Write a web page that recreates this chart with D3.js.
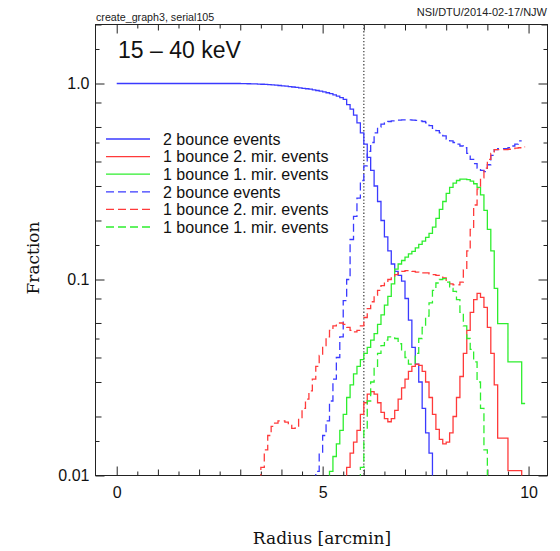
<!DOCTYPE html>
<html><head><meta charset="utf-8">
<script src="https://cdn.jsdelivr.net/npm/d3@7"></script>
<style>body{margin:0;background:#fff} svg{display:block}</style>
</head><body><svg id="c" width="560" height="551"></svg>
<script>
// ---------- data ----------
const binWidth = 1 / 12; // arcmin
const seriesLabels = ["2 bounce events", "1 bounce 2. mir. events", "1 bounce 1. mir. events",
                      "2 bounce events", "1 bounce 2. mir. events", "1 bounce 1. mir. events"];
const seriesColors = ["#3a3aff", "#ff3a3a", "#2eee2e", "#3a3aff", "#ff3a3a", "#2eee2e"];
const seriesDashed = [false, false, false, true, true, true];
// whether the histogram falls back to zero after its last bin
const seriesDropAtEnd = [true, true, false, false, false, true];

// first bin index of each series (bin k spans [k/12, (k+1)/12] arcmin)
const blueSolidStart = 0;
const blueSolid = [
  1,1,1,1,1,1,1,1,1,1,1,1,1,1,1,1,1,1,1,1,1,1,1,1,1,1,1,1,1,1,1,1,1,1,1,1,
  0.999,0.998,0.997,0.996,0.995,0.993,
  0.991,0.989,0.986,0.983,0.980,0.977,
  0.973,0.969,0.965,0.960,0.955,0.950,
  0.945,0.940,0.935,0.928,0.921,0.914,
  0.906,0.897,0.887,0.875,0.862,0.847,
  0.83,0.78,0.74,0.69,0.63,0.56,
  0.49,0.42,0.36,0.30,0.25,0.20,
  0.165,0.14,0.12,0.11,0.105,0.098,
  0.08,0.062,0.045,0.037,0.030,0.022,
  0.0165,0.013];
const redSolidStart = 67;
const redSolid = [
  0.011,0.013,0.0148,0.017,0.0205,
  0.0235,0.026,0.0268,0.026,0.0235,0.021,
  0.0195,0.0188,0.0195,0.0215,0.0245,0.028,
  0.031,0.034,0.036,0.037,0.0365,0.034,
  0.030,0.025,0.0205,0.0172,0.0153,0.0145,
  0.0148,0.0165,0.020,0.025,0.032,0.042,
  0.055,0.068,0.079,0.085,0.081,0.072,
  0.057,0.042,0.029,0.0155,0.0155,0.0155,
  0.0106,0.0106,0.0106,0.0106];
const greenSolidStart = 62;
const greenSolid = [
  0.0105,0.0125,0.0145,0.017,
  0.0205,0.025,0.029,0.033,0.036,0.039,
  0.042,0.045,0.049,0.053,0.059,0.066,
  0.074,0.082,0.095,0.113,0.12,0.125,
  0.13,0.135,0.139,0.145,0.151,0.157,
  0.164,0.172,0.185,0.205,0.228,0.25,
  0.275,0.295,0.31,0.32,0.325,0.325,
  0.323,0.318,0.308,0.295,0.27,0.225,
  0.18,0.14,0.09,0.0596,0.0596,0.0596,
  0.038,0.038,0.038,0.038,0.0233];
const blueDashedStart = 58;
const blueDashed = [
  0.0105,0.013,0.016,0.019,0.024,0.031,0.040,0.051,0.078,0.10,
  0.16,0.21,0.26,0.32,0.38,0.45,0.50,0.56,0.60,0.62,
  0.63,0.64,
  0.645,0.65,0.65,0.652,0.652,0.652,0.65,0.648,0.645,
  0.64,0.63,0.61,0.59,0.575,0.56,0.54,0.52,0.51,0.50,
  0.49,0.48,0.47,0.44,0.41,0.39,0.37,0.36,0.355,0.385,
  0.43,0.46,0.465,0.465,0.465,0.47,0.48,0.49,0.51];
const redDashedStart = 42;
const redDashed = [
  0.011,0.0135,0.016,0.0178,0.0185,0.019,
  0.019,0.0187,0.018,0.0174,0.0175,0.0195,
  0.022,0.0245,0.027,0.031,0.036,0.041,
  0.046,0.051,0.055,0.058,0.060,0.060,
  0.059,0.057,0.055,0.054,0.055,0.058,
  0.064,0.071,0.077,0.083,0.088,0.093,
  0.097,0.100,0.103,0.106,0.108,0.110,
  0.111,0.111,0.110,0.109,0.108,0.108,
  0.108,0.107,0.106,0.105,0.104,0.102,
  0.098,0.095,0.094,0.094,0.097,0.112,
  0.14,0.18,0.24,0.29,0.33,0.37,
  0.41,0.44,0.46,0.46,0.46,0.46,0.462,0.465,
  0.468,0.47,0.475];
const greenDashedStart = 71;
const greenDashed = [
  0.011,
  0.017,0.024,0.030,0.036,0.042,0.046,
  0.049,0.051,0.051,0.050,0.047,0.043,
  0.040,0.037,0.037,0.042,0.050,0.057,
  0.065,0.076,0.088,0.096,0.100,0.101,
  0.097,0.090,0.087,0.079,0.068,0.058,
  0.050,0.044,0.038,0.030,0.022,0.0135];

const seriesStarts = [blueSolidStart, redSolidStart, greenSolidStart, blueDashedStart, redDashedStart, greenDashedStart];
const seriesValues = [blueSolid, redSolid, greenSolid, blueDashed, redDashed, greenDashed];

const xTickValues = [0,0.5,1,1.5,2,2.5,3,3.5,4,4.5,5,5.5,6,6.5,7,7.5,8,8.5,9,9.5,10];
const xTickLabels = [0, 5, 10];
const yTickValues = [0.01,0.015,0.02,0.03,0.04,0.05,0.06,0.08,0.1,0.15,0.2,0.3,0.4,0.5,0.6,0.8,1,1.5,2];
const yTickLabels = [[1, "1.0"], [0.1, "0.1"], [0.01, "0.01"]];
const markerRadius = 6.0;
const titleText = "15 \u2013 40 keV";
const headerLeft = "create_graph3, serial105";
const headerRight = "NSI/DTU/2014-02-17/NJW";
const xLabel = "Radius [arcmin]";
const yLabel = "Fraction";

// ---------- drawing ----------
const svg = d3.select("#c");
const L = 95.5, R = 547.5, T = 24.5, B = 475.5;
const x = d3.scaleLinear().domain([-0.515, 10.46]).range([L, R]);
const y = d3.scaleLog().domain([0.01, 2]).range([B, T]);
const axisColor = "#222";
const sans = "'Liberation Sans', Arial, Helvetica, sans-serif";
const serif = "'DejaVu Serif', serif";

svg.append("defs").append("clipPath").attr("id", "clip")
  .append("rect").attr("x", L).attr("y", T).attr("width", R - L).attr("height", B - T);

function xLen(d) { return Math.abs(d % 5) < 1e-9 ? 9 : (Math.abs(d % 1) < 1e-9 ? 6 : 4); }
function yLen(d) {
  const m = d / Math.pow(10, Math.floor(Math.log10(d) + 1e-9));
  if (Math.abs(m - 1) < 1e-6) return 9;
  if (Math.abs(m - 1.5) < 1e-6 || Math.abs(m - 5) < 1e-6) return 4;
  return 6;
}
function styleAxis(g) {
  g.select(".domain").remove();
  g.selectAll(".tick line").attr("stroke", axisColor).attr("stroke-width", 1);
  g.selectAll("text").attr("fill", "#111").attr("font-family", sans).attr("font-size", 16);
}
[9, 6, 4].forEach(len => {
  const xv = xTickValues.filter(d => xLen(d) === len);
  const yv = yTickValues.filter(d => yLen(d) === len);
  svg.append("g").attr("transform", `translate(0,${B})`)
    .call(d3.axisBottom(x).tickValues(xv).tickSize(-len).tickPadding(11)
      .tickFormat(d => xTickLabels.includes(d) ? String(d) : ""))
    .call(styleAxis);
  svg.append("g").attr("transform", `translate(0,${T})`)
    .call(d3.axisTop(x).tickValues(xv).tickSize(-len).tickFormat(""))
    .call(styleAxis);
  svg.append("g").attr("transform", `translate(${L},0)`)
    .call(d3.axisLeft(y).tickValues(yv).tickSize(-len).tickPadding(6)
      .tickFormat(d => { const f = yTickLabels.find(t => Math.abs(t[0] - d) < 1e-9); return f ? f[1] : ""; }))
    .call(styleAxis);
  svg.append("g").attr("transform", `translate(${R},0)`)
    .call(d3.axisRight(y).tickValues(yv).tickSize(-len).tickFormat(""))
    .call(styleAxis);
});

// frame
svg.append("rect").attr("x", L).attr("y", T).attr("width", R - L).attr("height", B - T)
  .attr("fill", "none").attr("stroke", axisColor).attr("stroke-width", 1);

// dotted marker line
svg.append("line").attr("x1", x(markerRadius)).attr("x2", x(markerRadius))
  .attr("y1", T).attr("y2", B).attr("stroke", "#555").attr("stroke-width", 1.4)
  .attr("stroke-dasharray", "1.3,2");

// histograms
const floorV = 0.003;
const line = d3.line().x(d => x(d[0])).y(d => y(d[1]));
const plotG = svg.append("g").attr("clip-path", "url(#clip)");
seriesValues.forEach((vals, i) => {
  const s = seriesStarts[i];
  const pts = [];
  if (s > 0) pts.push([s * binWidth, floorV]);
  vals.forEach((v, j) => {
    const a = (s + j) * binWidth;
    pts.push([a, v], [a + binWidth, v]);
  });
  if (seriesDropAtEnd[i]) pts.push([(s + vals.length) * binWidth, floorV]);
  plotG.append("path").attr("d", line(pts)).attr("fill", "none")
    .attr("stroke", seriesColors[i]).attr("stroke-width", 1.3)
    .attr("stroke-dasharray", seriesDashed[i] ? "8,4" : null);
});

// legend
const legY0 = 139, legDy = 17.6;
seriesLabels.forEach((lab, i) => {
  const yy = legY0 + i * legDy;
  svg.append("line").attr("x1", 106).attr("x2", 150).attr("y1", yy).attr("y2", yy)
    .attr("stroke", seriesColors[i]).attr("stroke-width", 1.3)
    .attr("stroke-dasharray", seriesDashed[i] ? "8,4" : null);
  svg.append("text").attr("x", 163).attr("y", yy).attr("dy", "0.36em")
    .attr("font-family", sans).attr("font-size", 16).attr("fill", "#111").text(lab);
});

// texts
svg.append("text").attr("x", 118).attr("y", 58).attr("font-family", sans)
  .attr("font-size", 23).attr("fill", "#111").text(titleText);
svg.append("text").attr("x", 96).attr("y", 21).attr("font-family", sans)
  .attr("font-size", 10.7).attr("fill", "#222").text(headerLeft);
svg.append("text").attr("x", 547).attr("y", 16).attr("text-anchor", "end").attr("font-family", sans)
  .attr("font-size", 11).attr("fill", "#222").text(headerRight);
svg.append("text").attr("x", 322).attr("y", 544).attr("text-anchor", "middle")
  .attr("font-family", serif).attr("font-size", 17).attr("fill", "#111").text(xLabel);
svg.append("text").attr("transform", "translate(39,258) rotate(-90)").attr("text-anchor", "middle")
  .attr("font-family", serif).attr("font-size", 17).attr("fill", "#111").text(yLabel);
</script></body></html>
